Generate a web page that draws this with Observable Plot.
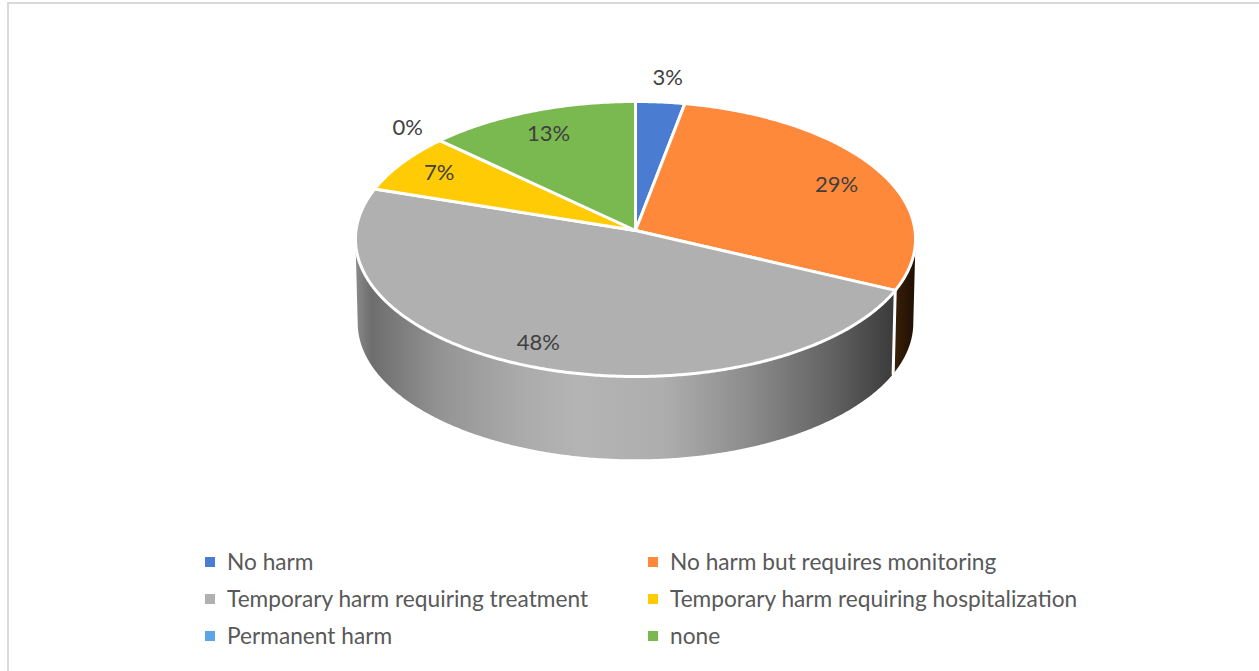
<!DOCTYPE html>
<html>
<head>
<meta charset="utf-8">
<script src="https://cdn.jsdelivr.net/npm/d3@7"></script>
<script src="https://cdn.jsdelivr.net/npm/@observablehq/plot@0.6"></script>
<style>
  html, body { margin: 0; background: #fff; overflow: hidden; }
  #page { position: relative; width: 1259px; height: 671px; font-family: Lato, sans-serif; }
  #frame { position: absolute; left: 7px; top: 2px; right: 0; bottom: 0; border-left: 2px solid #d9d9d9; border-top: 2px solid #d9d9d9; }
  #chart svg { display: block; position: relative; background: transparent; }
  #legend { position: relative; display: grid; grid-template-columns: 443px 1fr; grid-auto-rows: 37px; padding-left: 205px; margin-top: 0; color: #595959; font-size: 22.7px; }
  #legend div { display: flex; align-items: center; white-space: nowrap; }
  #legend i { display: block; width: 10px; height: 10px; margin-right: 12px; flex: none; }
</style>
</head>
<body>
<div id="page">
  <div id="frame"></div>
  <div id="chart"></div>
  <div id="legend"></div>
</div>
<script>
// Outcome categories, in clockwise order from twelve o'clock
const categories = [
  "No harm",
  "No harm but requires monitoring",
  "Temporary harm requiring treatment",
  "Temporary harm requiring hospitalization",
  "Permanent harm",
  "none"
];
const shares = [3, 29, 48, 7, 0, 13];
const colors = ["#4a7cd2", "#ff893a", "#b0b0b0", "#ffcb05", "#5ba6e8", "#7ab950"];
// Where each percentage sits: bearing as a percentage of the turn, distance in pie radii
const labelBearings = [1.63, 18.05, 56.4, 83.6, 86.8, 93.4];
const labelRadii = [1.206, 0.811, 0.846, 0.841, 1.158, 0.808];

// Pie geometry on the page, in pixels
const W = 1259, H = 543;
const CX = 635, CY = 230, RX = 279.5, RY = 137;
const TILT = 0.0618;     // perspective foreshortening of the disc
const DEPTH = 84 / RY;   // wall height, in vertical radii
const BASE = 0.992;      // the underside reads a little smaller

// Perspective projection of a point on the disc to plot units
function project(turn, r = 1, shrink = 1, drop = 0) {
  const a = turn * 2 * Math.PI;
  const u = r * Math.sin(a), v = r * Math.cos(a), d = 1 + TILT * v;
  return {X: shrink * u / d, Y: shrink * v / d - drop};
}
function arc(from, to, shrink = 1, drop = 0) {
  const n = Math.max(2, Math.ceil((to - from) * 720)), out = [];
  for (let i = 0; i <= n; i++) out.push(project(from + (to - from) * i / n, 1, shrink, drop));
  return out;
}

// Cumulative start and end of every slice, as fractions of the pie
const total = d3.sum(shares);
let running = 0;
const slices = categories.map((name, i) => {
  const start = running / total;
  running += shares[i];
  return {name, i, value: shares[i], start, end: running / total};
});

const sectors = slices.filter(s => s.value > 0).flatMap(s =>
  [{X: 0, Y: 0}, ...arc(s.start, s.end)].map(p => ({...p, name: s.name}))
);

// Only the front half of the side wall faces the viewer
const rightEdge = Math.acos(-TILT) / (2 * Math.PI);
const leftEdge = 1 - rightEdge;
function wall(from, to) {
  return [...arc(from, to), ...arc(from, to, BASE, DEPTH).reverse()];
}
const orangeSlice = slices[1], greySlice = slices[2];
const orangeWall = wall(rightEdge, orangeSlice.end);
const greyWall = wall(greySlice.start, leftEdge);
const seam = [project(greySlice.start), project(greySlice.start, 1, BASE, DEPTH)];

const labels = slices.map(s => ({
  ...project(labelBearings[s.i] / 100, labelRadii[s.i]),
  text: s.value + "%"
}));

const plot = Plot.plot({
  width: W,
  height: H,
  margin: 0,
  style: {fontFamily: "Lato, sans-serif", background: "transparent"},
  x: {domain: [-CX / RX, (W - CX) / RX], range: [0, W], axis: null},
  y: {domain: [CY / RY, (CY - H) / RY], range: [0, H], axis: null},
  color: {domain: categories, range: colors},
  marks: [
    Plot.line(greyWall, {x: "X", y: "Y", fill: "url(#greyWall)", stroke: "none", curve: "linear-closed"}),
    Plot.line(orangeWall, {x: "X", y: "Y", fill: "url(#orangeWall)", stroke: "none", curve: "linear-closed"}),
    Plot.line(seam, {x: "X", y: "Y", stroke: "white", strokeWidth: 3}),
    Plot.line(sectors, {x: "X", y: "Y", z: "name", fill: "name", stroke: "white", strokeWidth: 3, strokeLinejoin: "round", curve: "linear-closed"}),
    Plot.text(labels, {x: "X", y: "Y", text: "text", fontSize: 22, fill: "#404040"})
  ]
});

// Horizontal shading of the side walls
const defs = d3.select(plot).insert("defs", ":first-child");
function shade(id, stops) {
  const g = defs.append("linearGradient").attr("id", id)
    .attr("x1", 0).attr("x2", 1).attr("y1", 0).attr("y2", 0);
  stops.forEach(([o, c]) => g.append("stop").attr("offset", o).attr("stop-color", c));
}
shade("greyWall", [
  [0, "#8a8a8a"], [0.03, "#6d6d6d"], [0.16, "#949494"], [0.31, "#ababab"],
  [0.41, "#b4b4b4"], [0.57, "#aeaeae"], [0.72, "#8e8e8e"], [0.88, "#636363"], [1, "#3a3a3a"]
]);
shade("orangeWall", [[0, "#3a2008"], [1, "#1f0f03"]]);

document.getElementById("chart").append(plot);

// Two-column legend under the chart
const legend = d3.select("#legend");
categories.forEach((name, i) => {
  const row = legend.append("div");
  row.append("i").style("background", colors[i]);
  row.append("span").text(name);
});
</script>
</body>
</html>
